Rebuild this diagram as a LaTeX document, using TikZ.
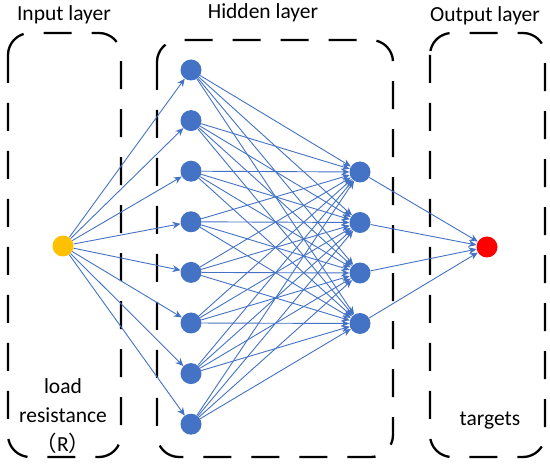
\documentclass[tikz,border=0pt]{standalone}
\usepackage{fontspec}
\setmainfont{Carlito}
\newfontfamily\cjk{Noto Sans CJK SC}
\usetikzlibrary{arrows.meta}
\definecolor{nnblue}{HTML}{4472C4}
\definecolor{nnorange}{HTML}{FFC000}
\definecolor{nnred}{HTML}{FF0000}
\begin{document}
\begin{tikzpicture}[x=1pt,y=-1pt,
  layerbox/.style={draw, line width=2.3pt, dash pattern=on 28pt off 20pt, rounded corners=22pt},
  neuron/.style={circle, fill=nnblue, minimum size=21pt, inner sep=0pt},
  conn/.style={draw=nnblue, line width=0.9pt, -{Stealth[length=8pt,width=7pt]}},
  lbl/.style={font=\fontsize{21.5}{29}\selectfont, inner sep=0pt, align=center}]
\useasboundingbox (0,0) rectangle (550,465);
% layer boxes
\draw[layerbox] (8,33) rectangle (121,457);
\draw[layerbox] (157,40) rectangle (393,457);
\draw[layerbox] (430,33) rectangle (545,457);
% titles
\node[lbl] (tin) at (64,15) {Input layer};
\node[lbl] (thid) at (263,13) {Hidden layer};
\node[lbl] (tout) at (485,16) {Output layer};
% bottom labels
\node[lbl] (lin) at (63,416) {load\\resistance\\{\cjk （}R{\cjk ）}};
\node[lbl] (lout) at (490,421) {targets};
% neurons
\node[neuron, fill=nnorange] (in) at (63,246) {};
\foreach \i in {1,...,8} {
  \node[neuron] (h\i) at (191,{70+(\i-1)*50.6}) {};
}
\foreach \j in {1,...,4} {
  \node[neuron] (k\j) at (360,{172+(\j-1)*50.5}) {};
}
\node[neuron, fill=nnred] (out) at (487,247) {};
% connections
\foreach \i in {1,...,8} {
  \draw[conn] (in) -- (h\i);
  \foreach \j in {1,...,4} {
    \draw[conn] (h\i) -- (k\j);
  }
}
\foreach \j in {1,...,4} {
  \draw[conn] (k\j) -- (out);
}
\end{tikzpicture}
\end{document}
